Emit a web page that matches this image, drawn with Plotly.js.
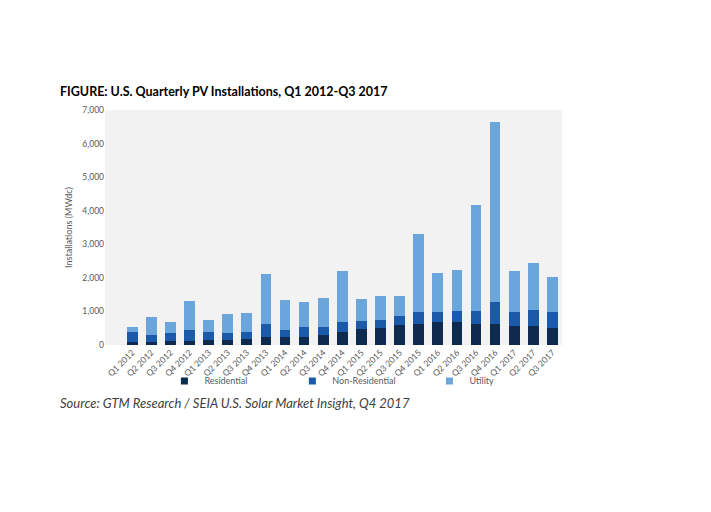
<!DOCTYPE html>
<html>
<head>
<meta charset="utf-8">
<script src="https://cdn.plot.ly/plotly-3.0.1.min.js"></script>
<style>html,body{margin:0;padding:0;background:#fff;}#chart{width:711px;height:512px;}</style>
</head>
<body>
<div id="chart"></div>
<script>
const quarters = ["Q1 2012","Q2 2012","Q3 2012","Q4 2012","Q1 2013","Q2 2013","Q3 2013","Q4 2013","Q1 2014","Q2 2014","Q3 2014","Q4 2014","Q1 2015","Q2 2015","Q3 2015","Q4 2015","Q1 2016","Q2 2016","Q3 2016","Q4 2016","Q1 2017","Q2 2017","Q3 2017"];
const residential = [100,80,130,130,160,160,180,250,230,250,300,390,480,520,610,630,680,680,620,640,560,560,510];
const nonResidential = [300,220,220,310,230,210,220,390,230,300,240,310,230,210,260,340,310,340,400,650,430,480,470];
const utility = [140,520,330,880,350,560,550,1470,890,730,850,1510,650,720,580,2350,1140,1200,3160,5360,1200,1390,1050];
const yTicks = [0,1000,2000,3000,4000,5000,6000,7000];
const yTickText = ["0","1,000","2,000","3,000","4,000","5,000","6,000","7,000"];
const seriesNames = ["Residential","Non-Residential","Utility"];
const seriesColors = ["#0e2a4f","#1a5aa8","#6aa6dc"];

const fontFam = "Lato, 'Open Sans', sans-serif";
const values = [residential, nonResidential, utility];
const legendIds = ["legend","legend2","legend3"];
const traces = [];
values.forEach((v,i)=>{
  traces.push({type:"bar", name:seriesNames[i], x:quarters, y:v, marker:{color:seriesColors[i]}, showlegend:false});
});
values.forEach((v,i)=>{
  traces.push({type:"scatter", mode:"markers", name:seriesNames[i], x:[quarters[0]], y:[null],
    marker:{symbol:"square", size:7, color:seriesColors[i]}, legend:legendIds[i], showlegend:true});
});
function leg(x){
  return {orientation:"h", x:x, xanchor:"left", y:-0.153, yanchor:"middle", itemwidth:30,
    font:{size:9, color:"#595959", family:fontFam}, bgcolor:"rgba(0,0,0,0)", borderwidth:0};
}
const layout = {
  width:711, height:512,
  margin:{l:105, r:149, t:110, b:167},
  barmode:"stack", bargap:0.44,
  paper_bgcolor:"#ffffff", plot_bgcolor:"#f2f2f2",
  font:{family:fontFam, color:"#595959", size:9},
  showlegend:true,
  legend:leg(0.13), legend2:leg(0.41), legend3:leg(0.71),
  xaxis:{tickangle:-45, tickfont:{size:8.5, color:"#595959"}, showgrid:false, zeroline:false,
         showline:false, ticks:"", automargin:false},
  yaxis:{range:[0,7000], tickvals:yTicks, ticktext:yTickText, showgrid:false, zeroline:false,
         showline:false, ticks:"", tickfont:{size:8.5, color:"#595959"}, automargin:false,
         title:{text:"Installations (MWdc)", font:{size:9, color:"#595959"}, standoff:8}},
  annotations:[
    {text:"<b>FIGURE: U.S. Quarterly PV Installations, Q1 2012-Q3 2017</b>", xref:"paper", yref:"paper",
     x:-0.103, y:1.08, xanchor:"left", yanchor:"middle", showarrow:false,
     font:{size:12.5, color:"#000000", family:fontFam}},
    {text:"<i>Source: GTM Research / SEIA U.S. Solar Market Insight, Q4 2017</i>", xref:"paper", yref:"paper",
     x:-0.103, y:-0.245, xanchor:"left", yanchor:"middle", showarrow:false,
     font:{size:13, color:"#404040", family:fontFam}}
  ]
};
Plotly.newPlot("chart", traces, layout, {displayModeBar:false, staticPlot:true});
</script>
</body>
</html>
